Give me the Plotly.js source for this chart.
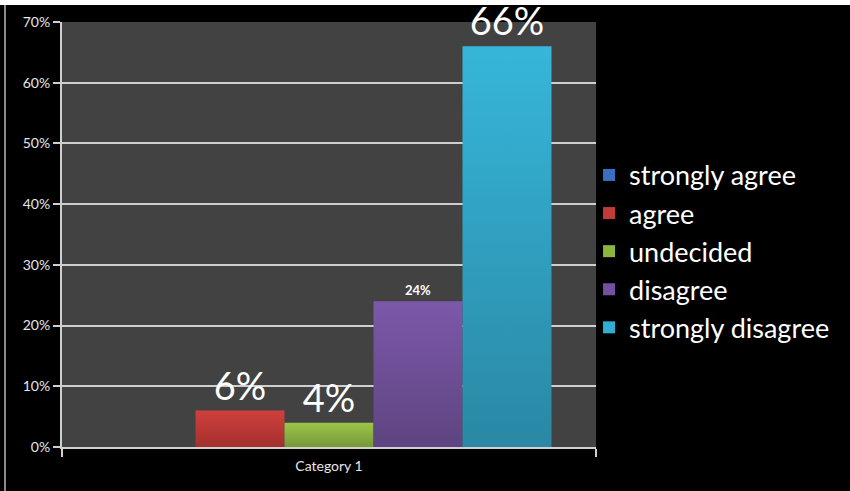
<!DOCTYPE html>
<html>
<head>
<meta charset="utf-8">
<script src="https://cdn.plot.ly/plotly-3.0.1.min.js"></script>
<style>
  html, body { margin: 0; padding: 0; background: #ffffff; width: 850px; height: 491px; overflow: hidden; }
  #chart { position: absolute; left: 0; top: 5px; width: 850px; height: 486px; }
  #edge { position: absolute; left: 4px; top: 5px; width: 2px; height: 486px; background: #8a8a8a; }
</style>
</head>
<body>
<div id="chart"></div>
<div id="edge"></div>
<script>
// Survey responses, single category
const category = ['Category 1'];
const responses = ['strongly agree', 'agree', 'undecided', 'disagree', 'strongly disagree'];
const shares = [0, 0.06, 0.04, 0.24, 0.66];
const labels = ['', '6%', '4%', '24%', '66%'];
const labelSizes = [13, 38, 38, 13, 38];
const labelWeights = ['normal', 'normal', 'normal', 'bold', 'normal'];
const yTicks = [0, 0.1, 0.2, 0.3, 0.4, 0.5, 0.6, 0.7];
const yTickText = ['0%', '10%', '20%', '30%', '40%', '50%', '60%', '70%'];

// solid colour (legend) and top/bottom shading for each bar
const colors = ['#3c6ec0', '#c23b38', '#8bb53f', '#7451a0', '#31aed2'];
const topShade = ['#4a7fd3', '#cf403c', '#9dc548', '#7d58aa', '#36b6da'];
const bottomShade = ['#2f5a9e', '#a3302e', '#75983a', '#5e4480', '#2a88a4'];

const font = 'Lato, "Open Sans", sans-serif';

const traces = responses.map((name, i) => ({
  type: 'bar',
  name: name,
  x: category,
  y: [shares[i]],
  text: [labels[i]],
  texttemplate: '%{text}',
  textposition: 'outside',
  cliponaxis: false,
  textfont: { family: font, size: labelSizes[i], color: '#ffffff', weight: labelWeights[i] },
  marker: { color: colors[i], line: { width: 0 } },
  legendgroup: 'g' + i,
  hoverinfo: 'skip'
}));

const layout = {
  width: 850,
  height: 486,
  margin: { l: 62, r: 254, t: 17, b: 44, autoexpand: false },
  paper_bgcolor: '#000000',
  plot_bgcolor: '#424242',
  font: { family: font, color: '#e6e6e6', size: 14 },
  barmode: 'group',
  bargap: 0.1667,
  bargroupgap: 0,
  showlegend: true,
  legend: {
    xref: 'container', yref: 'container',
    x: 0.693, xanchor: 'left',
    y: 0.493, yanchor: 'middle',
    font: { family: font, size: 27, color: '#ffffff' },
    bgcolor: 'rgba(0,0,0,0)',
    itemwidth: 30,
    tracegroupgap: 0,
    traceorder: 'normal'
  },
  xaxis: {
    type: 'category',
    showgrid: false,
    showline: true,
    linecolor: '#d0d0d0',
    linewidth: 2,
    ticks: 'outside',
    tickson: 'boundaries',
    ticklen: 8,
    tickcolor: '#d0d0d0',
    tickwidth: 2,
    ticklabelstandoff: 5,
    tickfont: { family: font, size: 14, color: '#e6e6e6' },
    zeroline: false
  },
  yaxis: {
    range: [0, 0.7],
    tickvals: yTicks,
    ticktext: yTickText,
    showgrid: true,
    gridcolor: '#cfcfcf',
    gridwidth: 2,
    showline: true,
    linecolor: '#cfcfcf',
    linewidth: 2,
    ticks: 'outside',
    ticklen: 7,
    tickcolor: '#cfcfcf',
    tickwidth: 2,
    tickfont: { family: font, size: 14, color: '#e6e6e6' },
    zeroline: false
  }
};

Plotly.newPlot('chart', traces, layout, { displayModeBar: false, staticPlot: true }).then(gd => {
  // vertical shading on each bar: lighter at the top, darker at the base
  const svgNS = 'http://www.w3.org/2000/svg';
  const defs = gd.querySelector('svg.main-svg defs');
  const barTraces = gd.querySelectorAll('.barlayer .trace');
  barTraces.forEach((tr, i) => {
    const id = 'barShade' + i;
    const grad = document.createElementNS(svgNS, 'linearGradient');
    grad.setAttribute('id', id);
    grad.setAttribute('x1', '0'); grad.setAttribute('y1', '0');
    grad.setAttribute('x2', '0'); grad.setAttribute('y2', '1');
    [[0, topShade[i]], [1, bottomShade[i]]].forEach(([off, col]) => {
      const s = document.createElementNS(svgNS, 'stop');
      s.setAttribute('offset', off);
      s.setAttribute('stop-color', col);
      grad.appendChild(s);
    });
    defs.appendChild(grad);
    tr.querySelectorAll('path').forEach(p => { p.style.fill = 'url(#' + id + ')'; });
  });
});
</script>
</body>
</html>
